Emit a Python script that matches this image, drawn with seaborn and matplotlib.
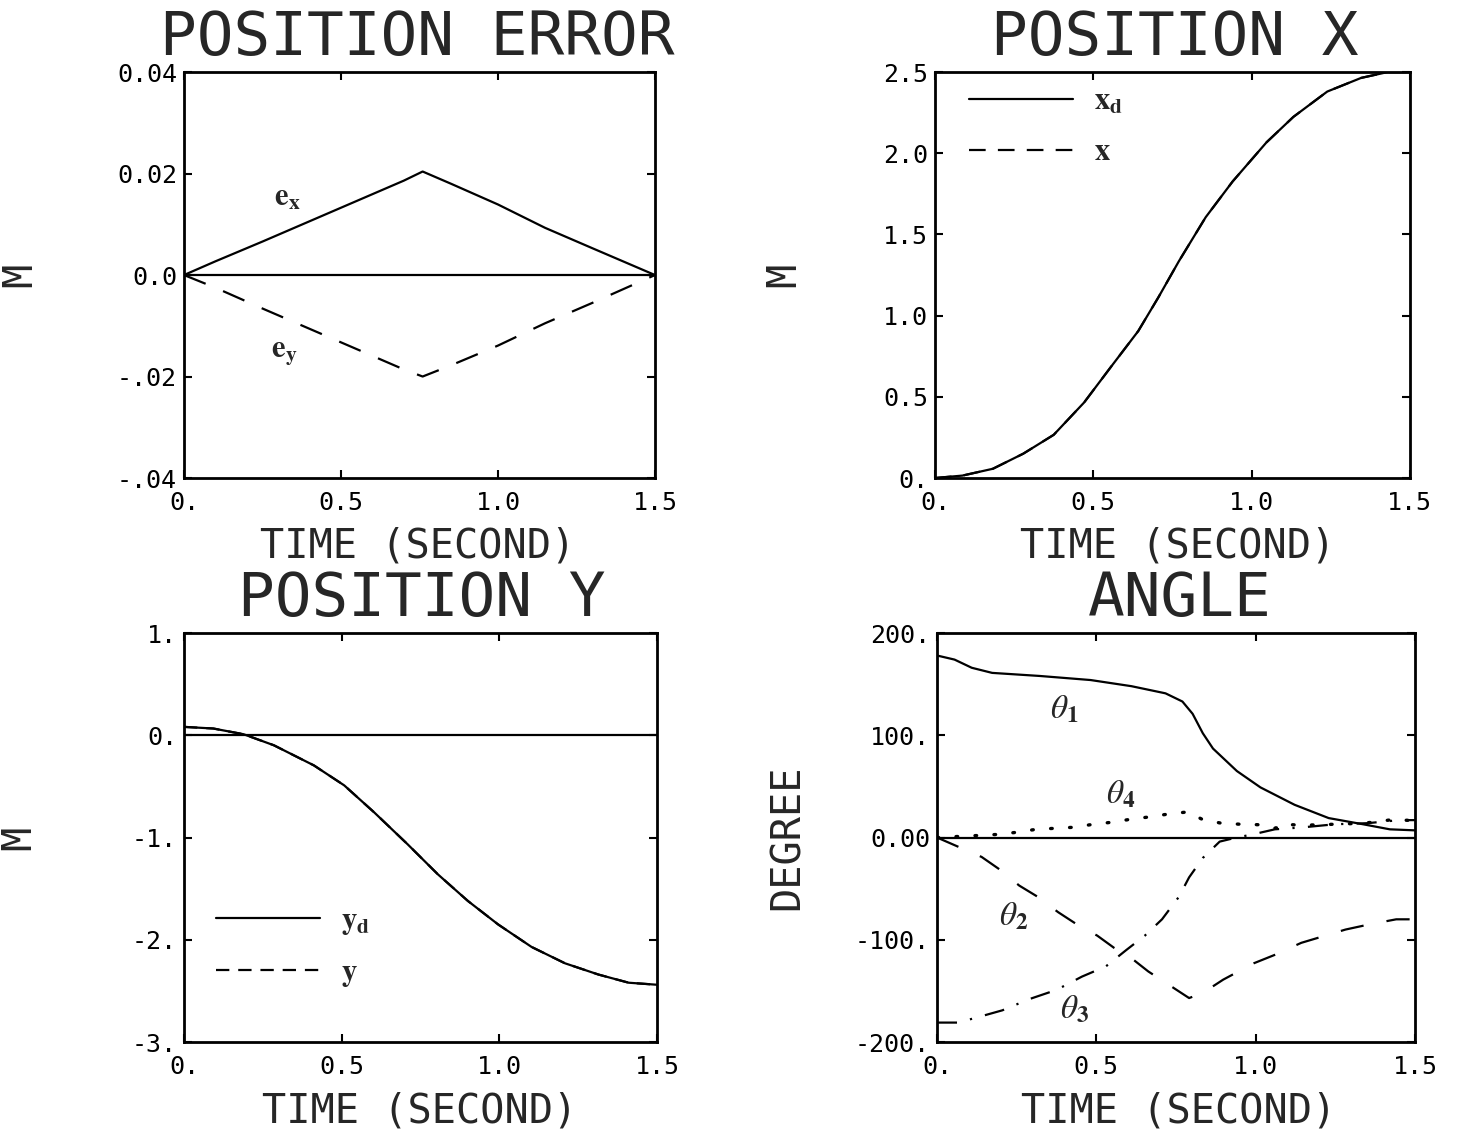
import matplotlib
matplotlib.use('Agg')
import matplotlib.pyplot as plt
import seaborn as sns

sns.set_style("ticks")
plt.rcParams['font.family'] = ['DejaVu Sans Mono', 'DejaVu Sans']
plt.rcParams['mathtext.fontset'] = 'stix'

# position error (m)
t_err = [0, 0.1, 0.25, 0.4, 0.55, 0.7, 0.76, 0.85, 1.0, 1.15, 1.3, 1.5]
e_x = [0, 0.0027, 0.0066, 0.0106, 0.0146, 0.0186, 0.0204, 0.0180, 0.0139, 0.0093, 0.0053, 0]
e_y = [0, -0.0025, -0.0066, -0.0106, -0.0146, -0.0186, -0.0200, -0.0178, -0.0139, -0.0095, -0.0055, 0]

# position x (m)
t_x = [0, 0.087, 0.183, 0.279, 0.375, 0.471, 0.556, 0.642, 0.706, 0.77, 0.855, 0.94,
       1.047, 1.132, 1.239, 1.346, 1.43, 1.5]
x_des = [0, 0.015, 0.057, 0.15, 0.266, 0.465, 0.685, 0.905, 1.114, 1.334, 1.606, 1.826,
         2.067, 2.224, 2.38, 2.464, 2.5, 2.5]
x_act = [0, 0.015, 0.057, 0.15, 0.266, 0.465, 0.685, 0.905, 1.114, 1.334, 1.606, 1.826,
         2.067, 2.224, 2.38, 2.464, 2.5, 2.5]

# position y (m)
t_y = [0, 0.093, 0.189, 0.285, 0.412, 0.508, 0.603, 0.709, 0.805, 0.9, 0.996,
       1.102, 1.208, 1.314, 1.41, 1.5]
y_des = [0.082, 0.066, 0.01, -0.098, -0.295, -0.49, -0.754, -1.066, -1.36, -1.62, -1.85,
         -2.07, -2.23, -2.34, -2.42, -2.44]
y_act = [0.082, 0.066, 0.01, -0.098, -0.295, -0.49, -0.754, -1.066, -1.36, -1.62, -1.85,
         -2.07, -2.23, -2.34, -2.42, -2.44]

# joint angles (degree)
t_th1 = [0, 0.055, 0.109, 0.173, 0.322, 0.482, 0.61, 0.717, 0.77, 0.802, 0.834, 0.866,
         0.941, 1.015, 1.122, 1.229, 1.336, 1.421, 1.5]
th1 = [178, 174, 166, 161, 158, 154, 148, 141, 133, 121, 102, 87, 65, 49, 32, 19, 13, 8, 7]
t_th2 = [0, 0.14, 0.2, 0.258, 0.316, 0.38, 0.439, 0.503, 0.556, 0.61, 0.663, 0.737, 0.791,
         0.834, 0.898, 0.994, 1.058, 1.143, 1.218, 1.282, 1.356, 1.441, 1.5]
th2 = [0, -19, -32, -47, -58, -73, -85, -96, -108, -118, -131, -146, -157,
       -152, -139, -123, -115, -103, -96, -90, -85, -80, -80]
t_th3 = [0, 0.066, 0.125, 0.205, 0.29, 0.375, 0.455, 0.53, 0.594, 0.652, 0.706, 0.759,
         0.791, 0.834, 0.887, 0.94, 0.99, 1.06, 1.15, 1.25, 1.35, 1.45, 1.5]
th3 = [-181, -181, -176, -169, -158, -149, -136, -126, -110, -96, -80, -58,
       -39, -20, -4, 0, 3, 8, 10, 13, 14, 17, 17]
t_th4 = [0, 0.13, 0.189, 0.247, 0.311, 0.37, 0.428, 0.492, 0.551, 0.61, 0.663, 0.727,
         0.786, 0.834, 0.892, 0.951, 1.01, 1.063, 1.079, 1.15, 1.249, 1.34, 1.43, 1.5]
th4 = [0, 2, 3, 5, 8, 9, 10, 13, 15, 18, 20, 23, 25, 17.5, 14, 13, 12.5, 9, 13,
       12, 13, 14, 17.5, 16.5]

time_ticks = [0, 0.5, 1.0, 1.5]
time_labels = ['0.', '0.5', '1.0', '1.5']
err_ticks = [-0.04, -0.02, 0, 0.02, 0.04]
err_labels = ['-.04', '-.02', '0.0', '0.02', '0.04']
px_ticks = [0, 0.5, 1.0, 1.5, 2.0, 2.5]
px_labels = ['0.', '0.5', '1.0', '1.5', '2.0', '2.5']
py_ticks = [-3, -2, -1, 0, 1]
py_labels = ['-3.', '-2.', '-1.', '0.', '1.']
ang_ticks = [-200, -100, 0, 100, 200]
ang_labels = ['-200.', '-100.', '0.00', '100.', '200.']

LW = 1.6
fig = plt.figure(figsize=(14.65, 11.33), dpi=100)
ax1 = fig.add_axes([0.1256, 0.5781, 0.3215, 0.3583])
ax2 = fig.add_axes([0.6382, 0.5781, 0.3242, 0.3583])
ax3 = fig.add_axes([0.1256, 0.0803, 0.3229, 0.3610])
ax4 = fig.add_axes([0.6396, 0.0803, 0.3263, 0.3610])


def style_axes(ax, title, ylabel, yticks, ylabels, ylim, ylab_x, xlab_x, title_x):
    ax.set_xlim(0, 1.5)
    ax.set_ylim(*ylim)
    ax.set_xticks(time_ticks)
    ax.set_xticklabels(time_labels)
    ax.set_yticks(yticks)
    ax.set_yticklabels(ylabels)
    ax.tick_params(direction='in', length=6, width=1.5, top=True, right=True,
                   labelsize=18, colors='black')
    ax.tick_params(axis='x', pad=9)
    ax.tick_params(axis='y', pad=5)
    for s in ax.spines.values():
        s.set_linewidth(2.0)
        s.set_color('black')
    ax.set_title(title, fontsize=44, pad=12, x=title_x)
    ax.set_xlabel('TIME (SECOND)', fontsize=29)
    ax.set_ylabel(ylabel, fontsize=29)
    ax.xaxis.set_label_coords(xlab_x, -0.12)
    ax.yaxis.set_label_coords(ylab_x, 0.5)


# position error
ax1.axhline(0, color='black', lw=LW)
sns.lineplot(x=t_err, y=e_x, ax=ax1, color='black', linewidth=LW)
sns.lineplot(x=t_err, y=e_y, ax=ax1, color='black', linewidth=LW,
             linestyle=(0, (10.5, 8.5)))
ax1.text(0.33, 0.0153, r'$\mathbf{e_x}$', fontsize=22, ha='center', va='center')
ax1.text(0.32, -0.0154, r'$\mathbf{e_y}$', fontsize=22, ha='center', va='center')
style_axes(ax1, 'POSITION ERROR', 'M', err_ticks, err_labels, (-0.04, 0.04),
           -0.305, 0.497, 0.495)

# position x
sns.lineplot(x=t_x, y=x_des, ax=ax2, color='black', linewidth=LW, label=r'$\mathbf{x_d}$')
sns.lineplot(x=t_x, y=x_act, ax=ax2, color='black', linewidth=LW,
             linestyle=(0, (7.5, 5.5)), label=r'$\mathbf{x}$')
ax2.legend(loc='upper left', bbox_to_anchor=(0.046, 0.995), frameon=False,
           fontsize=22, handlelength=3.4, handletextpad=0.7, labelspacing=0.7,
           borderaxespad=0)
style_axes(ax2, 'POSITION X', 'M', px_ticks, px_labels, (0, 2.5),
           -0.275, 0.51, 0.505)

# position y
ax3.axhline(0, color='black', lw=LW)
sns.lineplot(x=t_y, y=y_des, ax=ax3, color='black', linewidth=LW, label=r'$\mathbf{y_d}$')
sns.lineplot(x=t_y, y=y_act, ax=ax3, color='black', linewidth=LW,
             linestyle=(0, (6, 4)), label=r'$\mathbf{y}$')
ax3.legend(loc='lower left', bbox_to_anchor=(0.042, 0.10), frameon=False,
           fontsize=22, handlelength=3.4, handletextpad=0.7, labelspacing=0.7,
           borderaxespad=0)
style_axes(ax3, 'POSITION Y', 'M', py_ticks, py_labels, (-3, 1),
           -0.305, 0.499, 0.503)

# angles
ax4.axhline(0, color='black', lw=LW)
sns.lineplot(x=t_th1, y=th1, ax=ax4, color='black', linewidth=LW)
sns.lineplot(x=t_th2, y=th2, ax=ax4, color='black', linewidth=LW,
             linestyle=(0, (10.5, 10.5)))
sns.lineplot(x=t_th3, y=th3, ax=ax4, color='black', linewidth=LW,
             linestyle=(0, (9, 6, 1, 6)))
sns.lineplot(x=t_th4, y=th4, ax=ax4, color='black', linewidth=2.4,
             linestyle=(0, (0.5, 5.2)), dash_capstyle='round')
ax4.text(0.40, 126, r'$\theta_\mathbf{1}$', fontsize=24, ha='center', va='center')
ax4.text(0.575, 43, r'$\theta_\mathbf{4}$', fontsize=24, ha='center', va='center')
ax4.text(0.24, -77, r'$\theta_\mathbf{2}$', fontsize=24, ha='center', va='center')
ax4.text(0.43, -168, r'$\theta_\mathbf{3}$', fontsize=24, ha='center', va='center')
style_axes(ax4, 'ANGLE', 'DEGREE', ang_ticks, ang_labels, (-200, 200),
           -0.27, 0.506, 0.508)

fig.savefig('out.png', dpi=100)
